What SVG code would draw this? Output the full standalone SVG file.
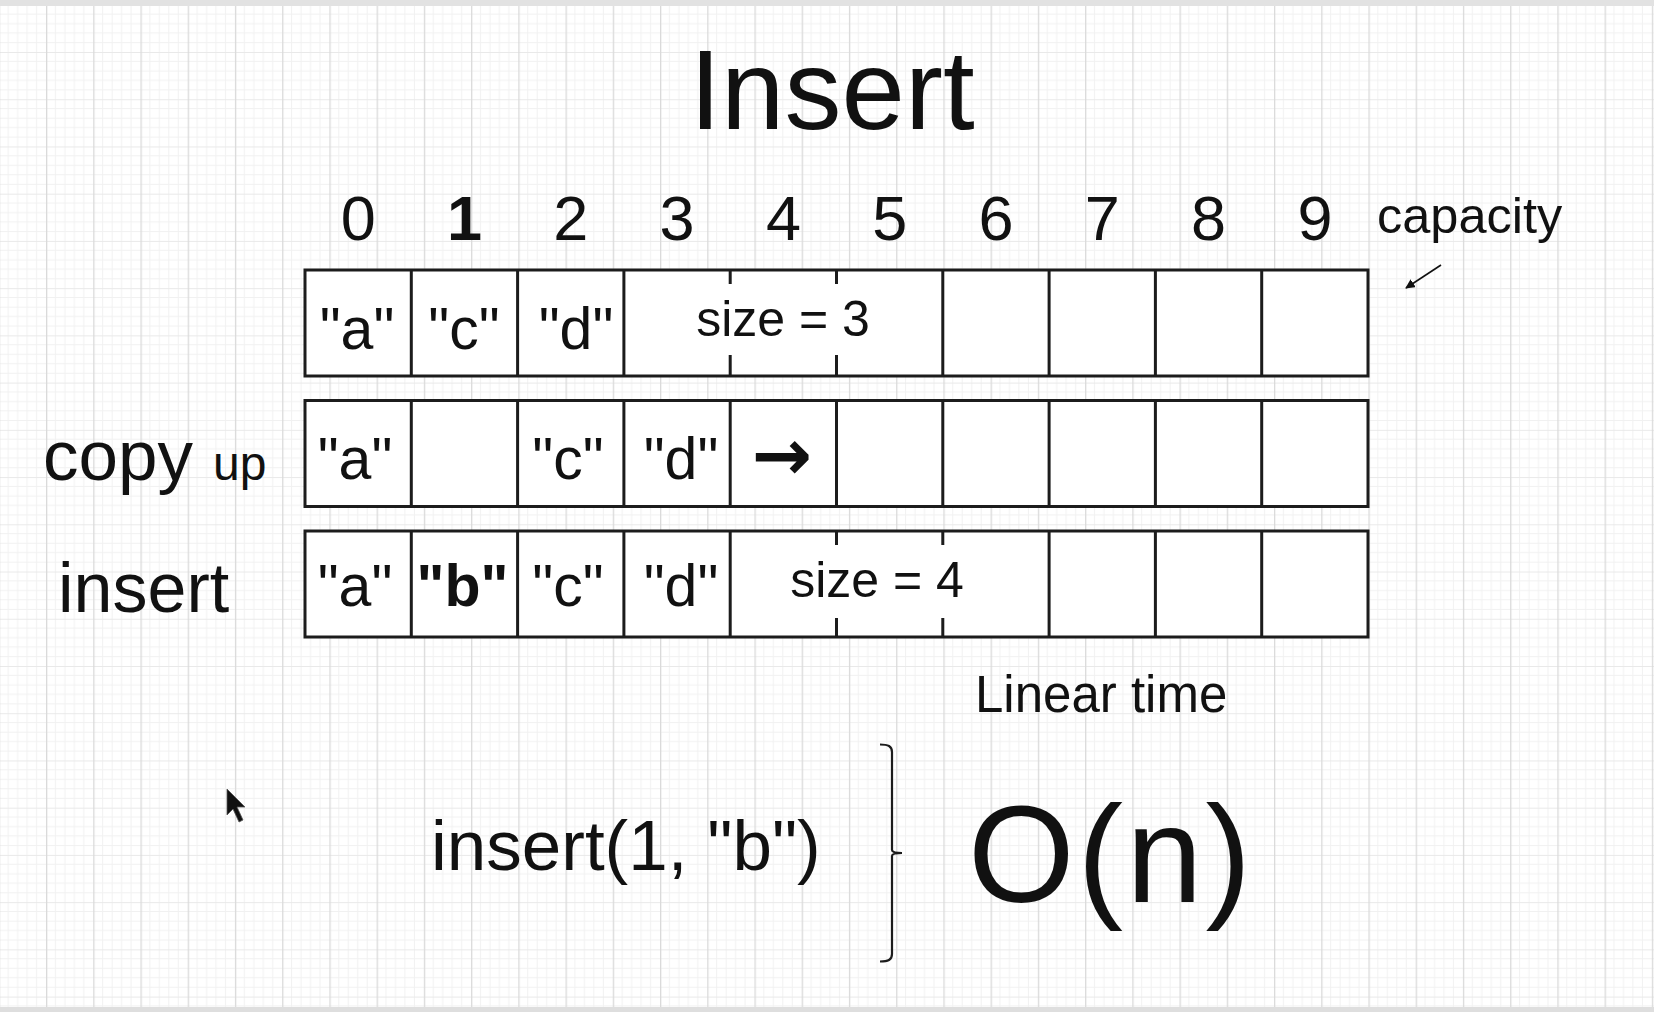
<svg xmlns="http://www.w3.org/2000/svg" width="1654" height="1012" viewBox="0 0 1654 1012">
<defs>
<pattern id="grid" x="46" y="52" width="47.23" height="47.23" patternUnits="userSpaceOnUse">
<path d="M9.446 0V47.23M18.892 0V47.23M28.338 0V47.23M37.784 0V47.23M0 9.446H47.23M0 18.892H47.23M0 28.338H47.23M0 37.784H47.23" stroke="#f1f1f1" stroke-width="1" fill="none"/>
<path d="M0 0.5H47.23" stroke="#e9e9e9" stroke-width="1.2" fill="none"/>
<path d="M0.5 0V47.23" stroke="#dadada" stroke-width="1.6" fill="none"/>
</pattern>
<marker id="ah" viewBox="0 0 10 10" refX="9" refY="5" markerWidth="6" markerHeight="6" orient="auto">
<path d="M0 0L10 5L0 10z" fill="#111"/>
</marker>
</defs>
<style>
text{font-family:"Liberation Sans",Arial,Helvetica,sans-serif;fill:#111}
text.arw{font-family:"DejaVu Sans",sans-serif;font-weight:bold;font-size:72px;text-anchor:middle}
.cell{fill:#fff;stroke:#1c1c1c;stroke-width:3}
.div{stroke:#1c1c1c;stroke-width:3;fill:none}
.v{font-size:59px;text-anchor:middle}
.idx{font-size:63px;text-anchor:middle}
.sz{font-size:50px;text-anchor:middle}
</style>
<rect width="1654" height="1012" fill="#fff"/>
<rect width="1654" height="1012" fill="url(#grid)"/>
<rect x="0" y="0" width="1654" height="6" fill="#e2e2e2"/>
<rect x="0" y="1007" width="1654" height="5" fill="#dedede"/>

<g id="title"><text x="832" y="129" font-size="114" text-anchor="middle">Insert</text></g>

<g id="indices">
<text class="idx" x="358.2" y="240">0</text>
<text class="idx" x="464.5" y="240" font-weight="bold">1</text>
<text class="idx" x="570.8" y="240">2</text>
<text class="idx" x="677.1" y="240">3</text>
<text class="idx" x="783.4" y="240">4</text>
<text class="idx" x="889.7" y="240">5</text>
<text class="idx" x="996" y="240">6</text>
<text class="idx" x="1102.3" y="240">7</text>
<text class="idx" x="1208.6" y="240">8</text>
<text class="idx" x="1314.9" y="240">9</text>
</g>

<g id="capacity"><text x="1377" y="233" font-size="50.5">capacity</text></g>

<g id="row1">
<rect class="cell" x="305" y="270" width="1063" height="106"/>
<path class="div" d="M411.3 270V376M517.6 270V376M623.9 270V376M942.8 270V376M1049.1 270V376M1155.4 270V376M1261.7 270V376M730.2 270V284M730.2 355V376M836.5 270V284M836.5 355V376"/>
<text class="v" x="357" y="349">"a"</text>
<text class="v" x="464" y="349">"c"</text>
<text class="v" x="576" y="349">"d"</text>
<text class="sz" x="783" y="336">size = 3</text>
</g>

<g id="row2">
<rect class="cell" x="305" y="400.5" width="1063" height="106"/>
<path class="div" d="M411.3 400.5V506.5M517.6 400.5V506.5M623.9 400.5V506.5M730.2 400.5V506.5M836.5 400.5V506.5M942.8 400.5V506.5M1049.1 400.5V506.5M1155.4 400.5V506.5M1261.7 400.5V506.5"/>
<text class="v" x="355" y="479">"a"</text>
<text class="v" x="568" y="479">"c"</text>
<text class="v" x="681" y="479">"d"</text>
<text class="arw" x="782" y="480">→</text>
</g>

<g id="row3">
<rect class="cell" x="305" y="531" width="1063" height="106"/>
<path class="div" d="M411.3 531V637M517.6 531V637M623.9 531V637M730.2 531V637M1049.1 531V637M1155.4 531V637M1261.7 531V637M836.5 531V545M836.5 618V637M942.8 531V545M942.8 618V637"/>
<text class="v" x="355" y="606">"a"</text>
<text class="v" x="462.5" y="606" font-weight="bold">"b"</text>
<text class="v" x="568" y="606">"c"</text>
<text class="v" x="681" y="606">"d"</text>
<text class="sz" x="877" y="597">size = 4</text>
</g>

<g id="label-copy"><text x="43" y="480" font-size="71">copy</text><text x="213" y="480" font-size="48">up</text></g>
<g id="label-insert"><text x="58" y="612" font-size="70">insert</text></g>

<g id="linear-time"><text x="975" y="712" font-size="51">Linear time</text></g>
<g id="call"><text x="431" y="870" font-size="71">insert(1, "b")</text></g>
<g id="brace"><path d="M880 744.5C888 744.5 892 746 892 752V850C892 852 894 853 902 853C894 853 892 854 892 856V954C892 960 888 961.5 880 961.5" fill="none" stroke="#1c1c1c" stroke-width="2.2"/></g>
<g id="big-o"><text x="968" y="902" font-size="137" letter-spacing="3">O(n)</text></g>

<g id="cursor"><path d="M227 789L227 815L233 809L239 822L243 820L237 807L245 807Z" fill="#111" stroke="#555" stroke-width="0.8"/></g>

<g id="connectors">
<line x1="1441" y1="265" x2="1406" y2="288" stroke="#111" stroke-width="1.6" marker-end="url(#ah)"/>
</g>
</svg>
